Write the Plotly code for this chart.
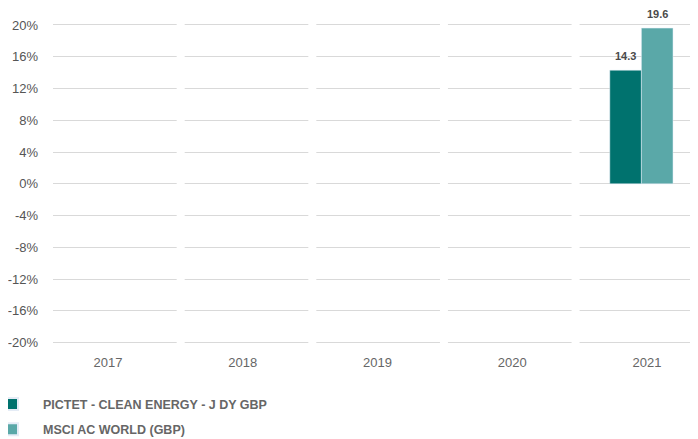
import plotly.graph_objects as go

years = ["2017", "2018", "2019", "2020", "2021"]
fund_name = "PICTET - CLEAN ENERGY - J DY GBP"
bench_name = "MSCI AC WORLD (GBP)"
fund_values = [None, None, None, None, 14.3]
bench_values = [None, None, None, None, 19.6]
y_ticks = [-20, -16, -12, -8, -4, 0, 4, 8, 12, 16, 20]
y_tick_labels = [f"{v}%" for v in y_ticks]

c_fund = "#00726e"
c_bench = "#5aa8a8"
BARGAP = 0.52
half = (1 - BARGAP) / 4  # centre offset of each bar in a group of two

fig = go.Figure()
annotations = []
for k, (name, vals, col) in enumerate([(fund_name, fund_values, c_fund), (bench_name, bench_values, c_bench)]):
    fig.add_trace(go.Bar(x=years, y=vals, name=name, marker_color=col, legendgroup=name))
    off = -half if k == 0 else half
    for i, v in enumerate(vals):
        if v is None:
            continue
        annotations.append(dict(x=i + off, y=v, xref="x", yref="y", text=f"<b>{v:.1f}</b>",
                                showarrow=False, yanchor="bottom", yshift=6,
                                font=dict(size=11, color="#4a4a4a", family="Liberation Sans")))

# empty helper trace so the label axis (x2) is drawn
fig.add_trace(go.Scatter(x=list(range(len(years))), y=[None] * len(years), xaxis="x2",
                         mode="markers", showlegend=False, hoverinfo="skip"))

shapes = []
for i in range(len(years) - 1):
    shapes.append(dict(type="line", xref="x", yref="paper", x0=i + 0.5, x1=i + 0.5,
                       y0=0, y1=1, line=dict(color="white", width=8), layer="above"))

fig.update_layout(
    width=698, height=439,
    margin=dict(l=45, r=8, t=9, b=102, autoexpand=False),
    plot_bgcolor="white", paper_bgcolor="white",
    barmode="group", bargap=BARGAP, bargroupgap=0,
    font=dict(family="Liberation Sans", size=13, color="#666666"),
    showlegend=True,
    legend=dict(orientation="v", x=-0.1116, xanchor="left", y=-0.135, yanchor="top",
                font=dict(family="Liberation Sans", size=12.5, color="#666666", weight="bold"),
                tracegroupgap=6, itemwidth=52, itemsizing="constant", bgcolor="rgba(0,0,0,0)"),
    xaxis=dict(type="category", range=[-0.47, 4.43], showgrid=False, showline=False,
               ticks="", showticklabels=False, automargin=False),
    xaxis2=dict(type="linear", overlaying="x", side="bottom", anchor="y",
                range=[-0.408, 4.378], tickvals=list(range(len(years))), ticktext=years,
                showgrid=False, showline=False, zeroline=False, ticks="",
                tickfont=dict(size=13, color="#666666"), ticklabelstandoff=8,
                automargin=False),
    yaxis=dict(range=[-20.3, 21], tickvals=y_ticks, ticktext=y_tick_labels,
               showgrid=True, gridcolor="#d9d9d9", gridwidth=1.3,
               zeroline=True, zerolinecolor="#d9d9d9", zerolinewidth=1.3,
               showline=False, ticks="", tickfont=dict(size=13, color="#555555"),
               ticklabelstandoff=14, automargin=False),
    shapes=shapes,
    annotations=annotations,
)

fig.write_html("out.html")
